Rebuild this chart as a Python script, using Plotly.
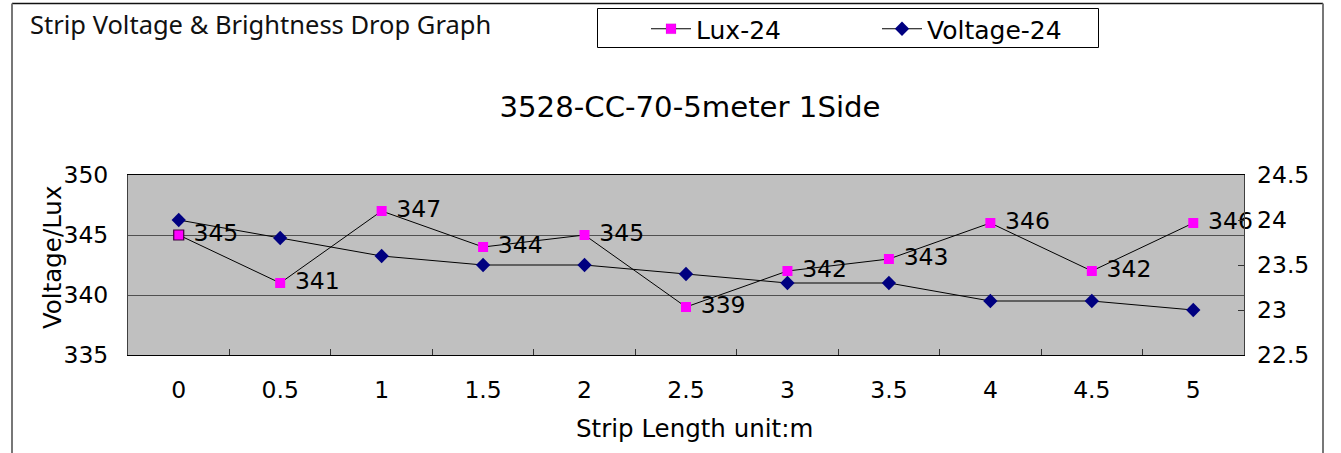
import plotly.graph_objects as go

lengths = ["0", "0.5", "1", "1.5", "2", "2.5", "3", "3.5", "4", "4.5", "5"]
lux_24 = [345, 341, 347, 344, 345, 339, 342, 343, 346, 342, 346]
voltage_24 = [24.0, 23.8, 23.6, 23.5, 23.5, 23.4, 23.3, 23.3, 23.1, 23.1, 23.0]

FONT = "DejaVu Sans"

fig = go.Figure()
fig.add_trace(go.Scatter(
    x=lengths, y=lux_24, name="Lux-24", mode="lines+markers+text",
    line=dict(color="black", width=1),
    marker=dict(symbol="square", size=10, color="#FF00FF",
                line=dict(width=[1.2] + [0] * 10, color="#400040")),
    text=["\u00a0" + str(v) for v in lux_24], textposition="middle right",
    textfont=dict(family=FONT, size=23.5, color="black"),
    cliponaxis=False,
))
fig.add_trace(go.Scatter(
    x=lengths, y=voltage_24, name="Voltage-24", mode="lines+markers",
    yaxis="y2",
    line=dict(color="black", width=1),
    marker=dict(symbol="diamond", size=11, color="#000080"),
))

W, H = 1341, 453
L, R, T, B = 128, 97, 175, 98
pw, ph = W - L - R, H - T - B

def px(x):
    return (x - L) / pw

def py(y):
    return (H - B - y) / ph

shapes = [
    dict(type="line", xref="paper", yref="paper", x0=px(12), x1=px(1323), y0=py(3.5), y1=py(3.5),
         line=dict(color="#111111", width=1.5)),
    dict(type="line", xref="paper", yref="paper", x0=px(12), x1=px(12), y0=py(3.5), y1=py(470),
         line=dict(color="#777777", width=2)),
    dict(type="line", xref="paper", yref="paper", x0=px(1323), x1=px(1323), y0=py(3.5), y1=py(470),
         line=dict(color="#777777", width=2)),
    dict(type="rect", xref="paper", yref="paper", x0=px(597.5), x1=px(1098.5), y0=py(8.5), y1=py(47.5),
         line=dict(color="black", width=1), fillcolor="white", layer="above"),
]

fig.update_layout(
    width=W, height=H,
    margin=dict(l=L, r=R, t=T, b=B, autoexpand=False),
    paper_bgcolor="white", plot_bgcolor="#C0C0C0",
    font=dict(family=FONT, size=22, color="black"),
    title=dict(text="3528-CC-70-5meter 1Side", x=690 / W, xanchor="center",
               y=1 - 107 / H, yanchor="middle", font=dict(family=FONT, size=29.2, color="black")),
    showlegend=True,
    legend=dict(orientation="h", x=px(646), y=py(6), xanchor="left", yanchor="top",
                bgcolor="rgba(0,0,0,0)", borderwidth=0,
                font=dict(family=FONT, size=25), entrywidth=176, entrywidthmode="pixels",
                itemwidth=40),
    xaxis=dict(type="category", range=[-0.5, 10.5], autorange=False,
               showgrid=False, showline=True, mirror=True, linecolor="black", linewidth=1,
               ticks="inside", tickson="boundaries", ticklen=6, tickcolor="#333333",
               ticklabelstandoff=14, tickfont=dict(family=FONT, size=23.5), automargin=False,
               fixedrange=True),
    yaxis=dict(range=[335, 350], dtick=5, showgrid=True, gridcolor="#505050", gridwidth=1,
               showline=True, mirror=True, linecolor="#404040", linewidth=1, zeroline=False,
               ticks="", ticklabelstandoff=14, tickfont=dict(family=FONT, size=23.5), automargin=False),
    yaxis2=dict(range=[22.5, 24.5], dtick=0.5, overlaying="y", side="right", showgrid=False,
                zeroline=False, ticks="inside", ticklen=6, tickcolor="#333333", automargin=False,
                ticklabelstandoff=12, tickfont=dict(family=FONT, size=23.5)),
    shapes=shapes,
    annotations=[
        dict(text="Strip Voltage & Brightness Drop Graph", xref="paper", yref="paper",
             x=px(28), y=py(24), xanchor="left", yanchor="middle", showarrow=False,
             font=dict(family="Noto Sans", size=25.5, color="#111111")),
        dict(text="Voltage/Lux", xref="paper", yref="paper", textangle=-90,
             x=px(52), y=py(258), xanchor="center", yanchor="middle", showarrow=False,
             font=dict(family=FONT, size=24.5, color="black")),
        dict(text="Strip Length unit:m", xref="paper", yref="paper",
             x=px(694), y=py(428), xanchor="center", yanchor="middle", showarrow=False,
             font=dict(family=FONT, size=24.5, color="black")),
    ],
)

fig.write_html("out.html", config={"displayModeBar": False},
               post_script="document.body.style.margin='0';document.body.style.padding='0';")
